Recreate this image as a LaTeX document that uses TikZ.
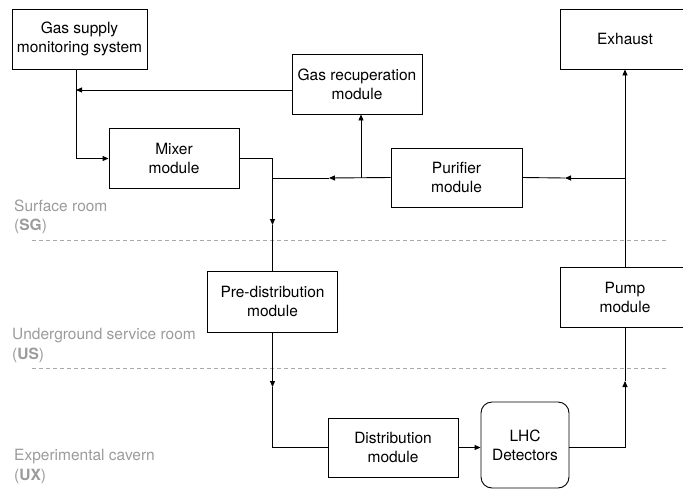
\documentclass[tikz,border=0pt]{standalone}
\usepackage{fontspec}
\setmainfont{TeX Gyre Heros}
\usetikzlibrary{arrows.meta}
\definecolor{labgray}{RGB}{155,155,155}
\definecolor{dashgray}{RGB}{170,170,170}
\tikzset{
  box/.style={draw, line width=0.9pt, align=center, inner sep=0pt, font=\fontsize{15.5}{19}\selectfont},
  flow/.style={line width=0.9pt},
  arr/.style={flow, -{Triangle[length=6pt,width=5pt]}},
  zone/.style={anchor=west, align=left, inner sep=0pt, text=labgray, font=\fontsize{15.5}{19.5}\selectfont},
  sep/.style={dashgray, line width=1pt, dash pattern=on 4pt off 3pt}
}
\begin{document}
\begin{tikzpicture}[x=1pt,y=-1pt]
\useasboundingbox (0,0) rectangle (683,488);
\clip (0,0) rectangle (683,488);

% zone separators
\draw[sep] (32,240) -- (667,240);
\draw[sep] (32,368) -- (667,368);

% zone labels
\node[zone] (zsg) at (14,217) {Surface room\\(\textbf{SG})};
\node[zone] (zus) at (12,345.5) {Underground service room\\(\textbf{US})};
\node[zone] (zux) at (14,466.5) {Experimental cavern\\(\textbf{UX})};

% boxes
\node[box, minimum width=135pt, minimum height=60pt] (gsms) at (79.5,39) {Gas supply\\monitoring system};
\node[box, minimum width=130pt, minimum height=60pt] (recup) at (357,84) {Gas recuperation\\module};
\node[box, minimum width=130pt, minimum height=60pt] (exhaust) at (625,39) {Exhaust};
\node[box, minimum width=130pt, minimum height=60pt] (mixer) at (174,158.5) {Mixer\\module};
\node[box, minimum width=131pt, minimum height=59pt] (purifier) at (456.5,177.5) {Purifier\\module};
\node[box, minimum width=130pt, minimum height=61pt] (predist) at (272.5,301.5) {Pre-distribution\\module};
\node[box, minimum width=130pt, minimum height=60pt] (pump) at (625,297) {Pump\\module};
\node[box, minimum width=130pt, minimum height=59pt] (dist) at (393,447.5) {Distribution\\module};
\node[box, minimum width=88pt, minimum height=86pt, rounded corners=11pt] (lhc) at (525,445) {LHC\\Detectors};

% junction / mid-arrow coordinates
\coordinate (ga) at (76,90);
\coordinate (ma) at (272.5,225);
\coordinate (pa) at (329,178);
\coordinate (rj) at (361,178);
\coordinate (ej) at (625,178);
\coordinate (pb) at (565,178);
\coordinate (da) at (272.5,387);
\coordinate (ua) at (625,381);

% connectors
\draw[flow] (gsms.south -| ga) -- (ga);
\draw[arr] (ga) |- (mixer.west);
\draw[arr] (recup.west |- ga) -- (ga);
\draw[arr] (mixer.east) -| (ma);
\draw[flow] (ma) -- (predist.north);
\draw[arr] (purifier.west) -- (pa);
\draw[flow] (pa) -- (predist.north |- pa);
\draw[arr] (rj) -- (recup.south -| rj);
\draw[arr] (pump.north) -- (exhaust.south);
\draw[arr] (ej) -- (pb);
\draw[flow] (pb) -- (purifier.east);
\draw[arr] (predist.south) -- (da);
\draw[flow] (da) |- (dist.west);
\draw[arr] (dist.east) -- (dist.east -| lhc.west);
\draw[arr] (lhc.east |- dist.east) -| (ua);
\draw[flow] (ua) -- (pump.south);
\end{tikzpicture}
\end{document}
